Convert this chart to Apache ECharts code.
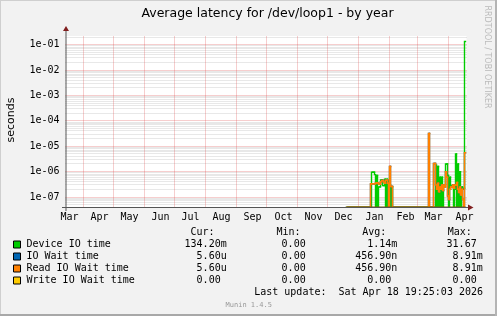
<!DOCTYPE html>
<html><head><meta charset="utf-8">
<script src="https://cdn.jsdelivr.net/npm/echarts@6/dist/echarts.min.js"></script>
<style>html,body{margin:0;padding:0;background:#F2F2F2}#c{width:497px;height:316px}</style>
</head><body><div id="c"></div>
<script>
// day index 0 = 14 Mar 2025, last day 399 = 17/18 Apr 2026
const FIRST_DAY = 281;
const deviceIO = [
  0,0,0,0,0,0,0,0,0,0,0,0,0,0,0,0,0,0,0,0,0,0,0,0,0,
  9.4e-7,9.4e-7,9.4e-7,7.6e-7,0,7e-7,0,2.5e-7,2.5e-7,4.7e-7,4.7e-7,2.8e-7,2.8e-7,5e-7,0,5e-7,0,4.5e-7,3e-7,0,2.5e-7,
  0,0,0,0,0,0,0,0,0,0,0,0,0,0,0,0,0,0,0,0,0,0,0,0,0,0,0,0,0,0,0,0,0,0,0,0,0,0,0,0,0,0,0,
  1.8e-6,0,1.6e-6,0,6e-7,0,6e-7,0,3e-7,3e-7,2e-6,2e-6,7e-7,0,6e-7,2.8e-7,2.8e-7,3e-7,0,2e-7,5e-6,0,2e-6,0,1e-6,0,2.5e-7,2e-7,2.2e-7,0.1342
];
const readIOWait = [
  0,0,0,0,0,0,0,0,0,0,0,0,0,0,0,0,0,0,0,0,0,0,0,0,
  3.3e-7,3.3e-7,3.3e-7,3.3e-7,3.3e-7,3.6e-7,3.6e-7,3.6e-7,3.2e-7,3.2e-7,4e-7,4.5e-7,4.5e-7,3.8e-7,3.5e-7,4.6e-7,4.6e-7,3.5e-7,0,1.6e-6,2.6e-7,2.6e-7,
  0,0,0,0,0,0,0,0,0,0,0,0,0,0,0,0,0,0,0,0,0,0,0,0,0,0,0,0,0,0,0,0,0,0,0,0,
  3.2e-5,0,0,0,0,
  2.1e-6,2.1e-6,3e-7,2e-7,3.5e-7,1.6e-7,2.5e-7,2e-7,3e-7,1.8e-7,3e-7,2.5e-7,1e-6,6e-7,1.1e-7,8e-8,2e-7,2.5e-7,2.5e-7,3e-7,2.2e-7,3e-7,3e-7,3.7e-7,2e-7,1.5e-7,2.5e-7,1.2e-7,2e-7,8e-8,0,5.6e-6
];
const ioWait = readIOWait; // identical to Read IO Wait time (hidden under it)
const writeIOWait = new Array(119).fill(0);

const monthStartDays = [18,48,79,109,140,171,201,232,262,293,324,352,383];
const monthLabelDays = [4,34,64,95,125,156,187,218,248,278,309,340,368,399];
const monthLabels = ['Mar','Apr','May','Jun','Jul','Aug','Sep','Oct','Nov','Dec','Jan','Feb','Mar','Apr'];

const legendNames = ['Device IO time','IO Wait time','Read IO Wait time','Write IO Wait time'];
const legendColors = ['#00CC00','#0066B3','#FF8000','#FFCC00'];
const curVals = ['134.20m','5.60u','5.60u','0.00'];
const minVals = ['0.00','0.00','0.00','0.00'];
const avgVals = ['1.14m','456.90n','456.90n','0.00'];
const maxVals = ['31.67','8.91m','8.91m','0.00'];
const headers = ['Cur:','Min:','Avg:','Max:'];

const X_MAX = 401;
const Y_MIN = Math.pow(10, -7.413);
const Y_MAX = Math.pow(10, -0.6575);
const MONO = '"DejaVu Sans Mono", monospace';
const SANS = '"DejaVu Sans", sans-serif';

const labelMap = {};
monthLabelDays.forEach((d, i) => { labelMap[d] = monthLabels[i]; });

// each item: [day, value (0 drawn on the floor)]
const toItems = arr => arr.map((v, i) => [FIRST_DAY + i, v === 0 ? Y_MIN : v]);

// horizontal grid rows: [x, value, isMajor]
const hGrid = [];
for (let e = -8; e <= -1; e++) {
  for (let k = 2; k <= 9; k++) {
    const v = k * Math.pow(10, e);
    if (v > Y_MIN && v < Y_MAX) hGrid.push([0, v, 0]);
  }
}
for (let e = -7; e <= -1; e++) hGrid.push([0, Math.pow(10, e), 1]);
const vGrid = monthStartDays.map(d => [d, Y_MIN]);

const minorCol = 'rgba(150,150,150,0.45)';
const majorCol = 'rgba(222,79,79,0.55)';
const snap = p => Math.floor(p) + 0.5;

// rrdtool-style step line: each day is a flat segment, joined by vertical risers
const stepSeries = (name, arr, color, width) => {
  const items = toItems(arr);
  return {
    name, type: 'custom', silent: true, animation: false, clip: true, z: 3, data: items,
    renderItem: (params, api) => {
      const i = params.dataIndex;
      const d = api.value(0), v = api.value(1);
      const prev = i > 0 ? items[i - 1][1] : v;
      const a = api.coord([d, prev]);
      const b = api.coord([d, v]);
      const c = api.coord([d + 1, v]);
      return {type: 'polyline', shape: {points: [a, b, c]},
        style: {stroke: color, lineWidth: width, fill: null, lineCap: 'square', lineJoin: 'miter'}};
    }
  };
};

const graphic = [];
// frame
graphic.push({type: 'line', shape: {x1: 0, y1: 0.5, x2: 497, y2: 0.5}, style: {stroke: '#CFCFCF', lineWidth: 1}});
graphic.push({type: 'line', shape: {x1: 0.5, y1: 0, x2: 0.5, y2: 316}, style: {stroke: '#CFCFCF', lineWidth: 1}});
graphic.push({type: 'line', shape: {x1: 0, y1: 315, x2: 497, y2: 315}, style: {stroke: '#A8A8A8', lineWidth: 2}});
graphic.push({type: 'line', shape: {x1: 496, y1: 0, x2: 496, y2: 316}, style: {stroke: '#B4B4B4', lineWidth: 2}});
// title
graphic.push({type: 'text', style: {text: 'Average latency for /dev/loop1 - by year', x: 267.5, y: 14, font: '12.5px ' + SANS, fill: '#000', textAlign: 'center', textVerticalAlign: 'middle'}});
// y label
graphic.push({type: 'text', x: 11, y: 120, rotation: Math.PI / 2, style: {text: 'seconds', x: 0, y: 0, font: '11px ' + SANS, fill: '#000', textAlign: 'center', textVerticalAlign: 'middle'}});
// watermark
graphic.push({type: 'text', x: 487, y: 57, rotation: -Math.PI / 2, style: {text: 'RRDTOOL / TOBI OETIKER', x: 0, y: 0, font: '8px ' + SANS, fill: '#BBBBBB', textAlign: 'center', textVerticalAlign: 'middle'}});
// axes lines and arrows
graphic.push({type: 'line', z: 10, shape: {x1: 66, y1: 211, x2: 66, y2: 30}, style: {stroke: '#555', lineWidth: 1}});
graphic.push({type: 'line', z: 10, shape: {x1: 62, y1: 207.5, x2: 469, y2: 207.5}, style: {stroke: '#555', lineWidth: 1}});
graphic.push({type: 'polygon', z: 11, shape: {points: [[63, 31], [69, 31], [66, 26]]}, style: {fill: '#801F1F'}});
graphic.push({type: 'polygon', z: 11, shape: {points: [[468, 204.5], [468, 210.5], [473.5, 207.5]]}, style: {fill: '#801F1F'}});
// legend
const rowY = [244.5, 256.5, 268.5, 280.5];
const colEnd = [226.7, 311.7, 397.3, 482.7];
const headX = [190.5, 276.5, 362.3, 447.7];
headers.forEach((h, i) => graphic.push({type: 'text', style: {text: h, x: headX[i], y: 232.5, font: '10px ' + MONO, fill: '#000', textAlign: 'left', textVerticalAlign: 'middle'}}));
const cols = [curVals, minVals, avgVals, maxVals];
legendNames.forEach((n, r) => {
  graphic.push({type: 'rect', shape: {x: 13.5, y: rowY[r] - 3.5, width: 7, height: 7}, style: {fill: legendColors[r], stroke: '#000', lineWidth: 1}});
  graphic.push({type: 'text', style: {text: n, x: 26.5, y: rowY[r], font: '10px ' + MONO, fill: '#000', textAlign: 'left', textVerticalAlign: 'middle'}});
  cols.forEach((c, ci) => {
    const s = c[r];
    const unit = /[a-zA-Z]$/.test(s);
    graphic.push({type: 'text', style: {text: s, x: colEnd[ci] - (unit ? 0 : 6.02), y: rowY[r], font: '10px ' + MONO, fill: '#000', textAlign: 'right', textVerticalAlign: 'middle'}});
  });
});
graphic.push({type: 'text', style: {text: 'Last update:  Sat Apr 18 19:25:03 2026', x: 483, y: 292.5, font: '10px ' + MONO, fill: '#000', textAlign: 'right', textVerticalAlign: 'middle'}});
graphic.push({type: 'text', style: {text: 'Munin 1.4.5', x: 248.7, y: 305, font: '7px ' + MONO, fill: '#999', textAlign: 'center', textVerticalAlign: 'middle'}});

const chart = echarts.init(document.getElementById('c'), null, {renderer: 'canvas'});
chart.setOption({
  backgroundColor: '#F2F2F2',
  animation: false,
  grid: {left: 65.5, top: 36, width: 401, height: 171.5, show: true, backgroundColor: '#FFFFFF', borderWidth: 0, containLabel: false, outerBoundsMode: 'none'},
  xAxis: {
    type: 'value', min: 0, max: X_MAX, interval: 1,
    axisLine: {show: false}, axisTick: {show: false}, splitLine: {show: false},
    axisLabel: {formatter: v => labelMap[v] || '', fontFamily: 'DejaVu Sans Mono', fontSize: 10, color: '#000', margin: 5, showMinLabel: true, showMaxLabel: true}
  },
  yAxis: {
    type: 'log', logBase: 10, min: Y_MIN, max: Y_MAX,
    axisLine: {show: false}, axisTick: {show: false}, splitLine: {show: false}, minorSplitLine: {show: false},
    axisLabel: {
      formatter: v => { const e = Math.round(Math.log10(v)); return '1e' + (e < 0 ? '-' : '+') + String(Math.abs(e)).padStart(2, '0'); },
      fontFamily: 'DejaVu Sans Mono', fontSize: 10, color: '#000', margin: 6, showMinLabel: false, showMaxLabel: false
    }
  },
  series: [
    {
      type: 'custom', silent: true, z: 1, animation: false, data: hGrid,
      renderItem: (params, api) => {
        const v = api.value(1);
        const p1 = api.coord([0, v]);
        const p2 = api.coord([X_MAX, v]);
        const y = snap(p1[1]);
        return {type: 'line', shape: {x1: p1[0], y1: y, x2: p2[0], y2: y},
          style: {stroke: api.value(2) ? majorCol : minorCol, lineWidth: 1, lineDash: [1, 1]}};
      }
    },
    {
      type: 'custom', silent: true, z: 1, animation: false, data: vGrid,
      renderItem: (params, api) => {
        const d = api.value(0);
        const p1 = api.coord([d, Y_MIN]);
        const p2 = api.coord([d, Y_MAX]);
        const x = snap(p1[0]);
        return {type: 'line', shape: {x1: x, y1: p1[1], x2: x, y2: p2[1]},
          style: {stroke: majorCol, lineWidth: 1, lineDash: [1, 1]}};
      }
    },
    stepSeries('Device IO time', deviceIO, '#00CC00', 1.4),
    stepSeries('IO Wait time', ioWait, '#0066B3', 1.4),
    stepSeries('Read IO Wait time', readIOWait, '#FF8000', 1.5),
    stepSeries('Write IO Wait time', writeIOWait, '#7A6400', 1.5)
  ],
  graphic
});
</script>
</body></html>
